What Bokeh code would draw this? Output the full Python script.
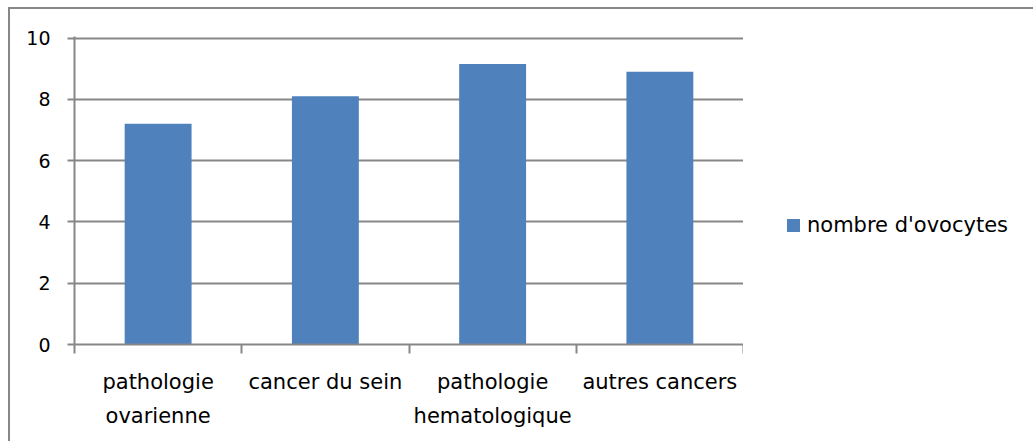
from bokeh.plotting import figure
from bokeh.models import Range1d, FixedTicker, ColumnDataSource, Div
from bokeh.layouts import row
from bokeh.embed import file_html
from bokeh.resources import INLINE

categories = ["pathologie\novarienne", "cancer du sein",
              "pathologie\nhematologique", "autres cancers"]
values = [7.2, 8.1, 9.15, 8.9]
series_name = "nombre d'ovocytes"
y_ticks = [0, 2, 4, 6, 8, 10]

FONT = "DejaVu Sans"
GRAY = "#878787"
BLUE = "#4F81BD"

centers = [i + 0.5 for i in range(len(categories))]
src = ColumnDataSource(dict(x=centers, top=values))

p = figure(width=733, height=432, output_backend="svg", toolbar_location=None,
           x_range=Range1d(0, len(categories)), y_range=Range1d(0, 10.05),
           min_border_left=64, min_border_right=0, min_border_top=27,
           min_border_bottom=97)
p.outline_line_color = None
p.background_fill_color = "white"
p.border_fill_color = "white"

r = p.vbar(x="x", top="top", width=0.4, bottom=0, source=src,
           fill_color=BLUE, line_color=None, legend_label=series_name)
p.legend.visible = False

# y axis
p.yaxis.ticker = FixedTicker(ticks=y_ticks)
p.yaxis.axis_line_color = GRAY
p.yaxis.axis_line_width = 2
p.yaxis.major_tick_line_color = GRAY
p.yaxis.major_tick_line_width = 2
p.yaxis.major_tick_out = 7
p.yaxis.major_tick_in = 0
p.yaxis.minor_tick_line_color = None
p.yaxis.major_label_standoff = 17
p.yaxis.major_label_text_font = FONT
p.yaxis.major_label_text_font_size = "19px"
p.yaxis.major_label_text_color = "black"
p.ygrid.grid_line_color = GRAY
p.ygrid.grid_line_width = 2
p.xgrid.grid_line_color = None

# x axis: labels at category centres, tick marks at category boundaries
p.xaxis.ticker = FixedTicker(ticks=centers, minor_ticks=list(range(len(categories) + 1)))
p.xaxis.major_label_overrides = {c: name for c, name in zip(centers, categories)}
p.xaxis.axis_line_color = GRAY
p.xaxis.axis_line_width = 2
p.xaxis.major_tick_line_color = None
p.xaxis.major_tick_out = 0
p.xaxis.major_tick_in = 0
p.xaxis.minor_tick_line_color = GRAY
p.xaxis.minor_tick_line_width = 2
p.xaxis.minor_tick_out = 9
p.xaxis.minor_tick_in = 0
p.xaxis.major_label_standoff = 16
p.xaxis.major_label_text_font = FONT
p.xaxis.major_label_text_font_size = "21px"
p.xaxis.major_label_text_line_height = 1.42
p.xaxis.major_label_text_color = "black"

# legend (HTML, beside the plot)
legend_html = (
    '<div style="position:relative;width:290px;height:432px;">'
    f'<div style="position:absolute;left:39px;top:205px;width:13px;height:13px;background:{BLUE};"></div>'
    f'<div style="position:absolute;left:59px;top:199px;white-space:nowrap;font-family:\'{FONT}\';'
    f'font-size:21px;line-height:25px;color:black;">{series_name}</div>'
    '</div>'
)
legend_div = Div(text=legend_html, width=290, height=432)

layout = row(p, legend_div, spacing=0,
             styles={"margin-left": "8px", "margin-top": "7px",
                     "border-left": f"2px solid {GRAY}", "border-top": f"2px solid {GRAY}"})

open("out.html", "w").write(file_html(layout, INLINE))
